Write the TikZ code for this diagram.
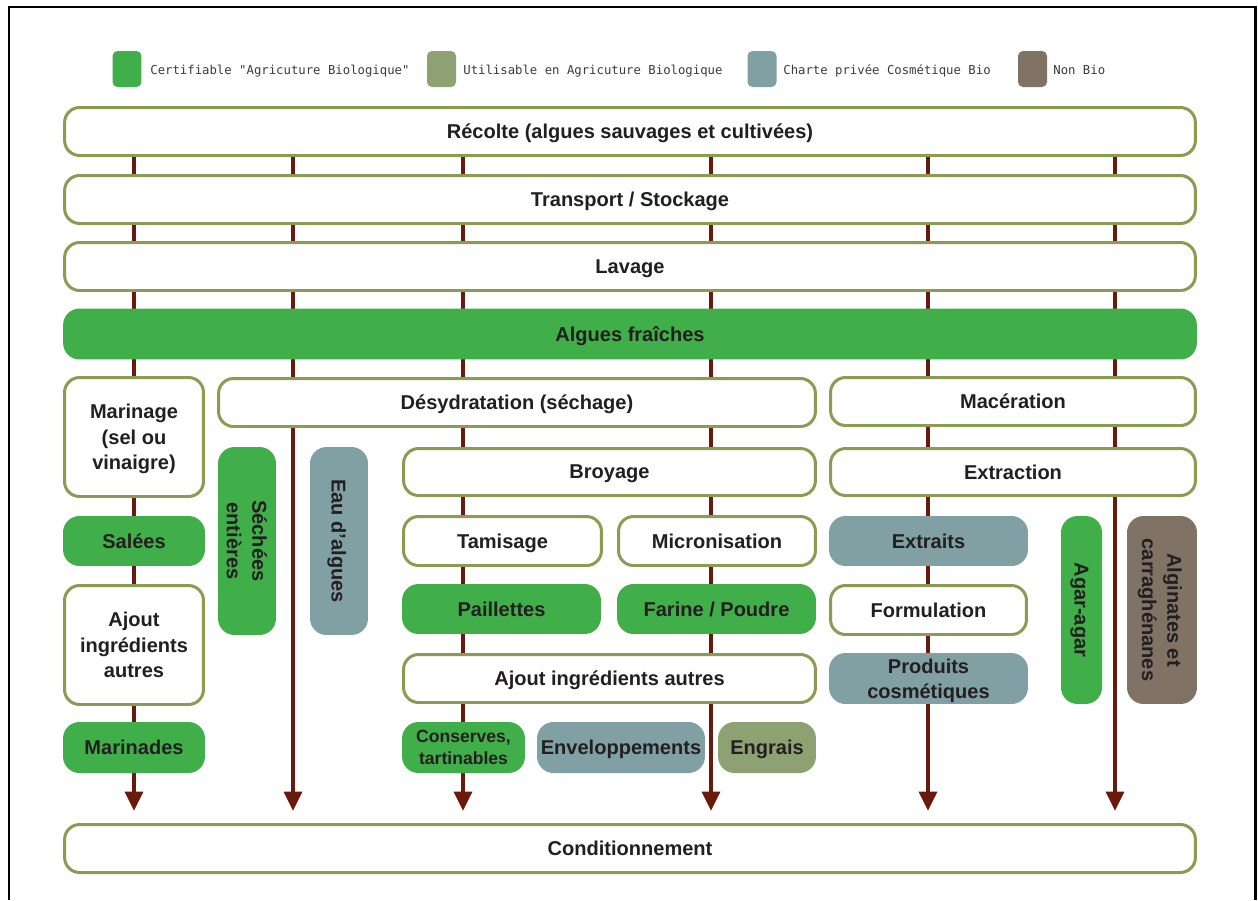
\documentclass[tikz,border=0pt]{standalone}
\usepackage{fontspec}
\setmainfont{Liberation Sans}
\newfontfamily\legendfont{DejaVu Sans Mono}
\usetikzlibrary{arrows.meta,backgrounds}

\definecolor{bioGreen}{HTML}{40AE49}
\definecolor{useGreen}{HTML}{8EA172}
\definecolor{cosmBlue}{HTML}{80A0A4}
\definecolor{nonBio}{HTML}{807366}
\definecolor{edgeOlive}{HTML}{8A9B52}
\definecolor{flowRed}{HTML}{6A1A0C}
\definecolor{inkGrey}{HTML}{231F20}
\definecolor{legendInk}{HTML}{403A3A}

\begin{document}
\begin{tikzpicture}[
	x=0.02cm, y=-0.02cm,
	stage/.style={% white process step
		rectangle,
		rounded corners=0.3cm,
		draw=edgeOlive,
		fill=white,
		line width=1.7pt,
		align=center,
		inner sep=0pt,
		text depth=0pt,
		text=inkGrey,
		font=\bfseries\fontsize{11.4}{14.5}\selectfont
	},
	bioBox/.style={stage, draw=bioGreen, fill=bioGreen},
	useBox/.style={stage, draw=useGreen, fill=useGreen},
	cosmBox/.style={stage, draw=cosmBlue, fill=cosmBlue},
	nonBox/.style={stage, draw=nonBio, fill=nonBio},
	wide/.style={minimum width=22.62cm, minimum height=0.96cm},
	legendkey/.style={
		rectangle,
		rounded corners=0.1cm,
		minimum width=0.58cm,
		minimum height=0.72cm
	},
	legendtext/.style={
		anchor=west,
		inner sep=0pt,
		text depth=0pt,
		text=legendInk,
		font=\legendfont\fontsize{7}{8}\selectfont
	},
	flow/.style={% dark red arrows behind the boxes
		draw=flowRed,
		line width=2.5pt,
		-{Triangle[width=10pt,length=11pt]},
		shorten >=0.24cm
	},
]
	\useasboundingbox (0,0) rectangle (1258,900);
	\draw [line width=1.7pt] (9,900) -- (9,7) -- (1255,7) -- (1255,900);

	% legend
	\node [legendkey, fill=bioGreen] (kbio) at (127,69) {};
	\node [legendtext] (tbio) at (150,70) {Certifiable "Agricuture Biologique"};
	\node [legendkey, fill=useGreen] (kuse) at (441.5,69) {};
	\node [legendtext] (tuse) at (463,70) {Utilisable en Agricuture Biologique};
	\node [legendkey, fill=cosmBlue] (kcosm) at (762,69) {};
	\node [legendtext] (tcosm) at (783,70) {Charte privée Cosmétique Bio};
	\node [legendkey, fill=nonBio] (knon) at (1032.5,69) {};
	\node [legendtext] (tnon) at (1053,70) {Non Bio};

	% common steps
	\node [stage, wide] (recolte) at (630,131.5) {Récolte (algues sauvages et cultivées)};
	\node [stage, wide] (transport) at (630,199.5) {Transport / Stockage};
	\node [stage, wide] (lavage) at (630,266.5) {Lavage};
	\node [bioBox, wide] (fraiches) at (630,334) {Algues fraîches};

	% left branch
	\node [stage, minimum width=2.78cm, minimum height=2.38cm] (marinage) at (134,437) {Marinage\\(sel ou\\vinaigre)};
	\node [bioBox, minimum width=2.78cm, minimum height=0.94cm] (salees) at (134,541) {Salées};
	\node [stage, minimum width=2.78cm, minimum height=2.38cm] (ajoutL) at (134,645) {Ajout\\ingrédients\\autres};
	\node [bioBox, minimum width=2.78cm, minimum height=0.96cm] (marinades) at (134,747.5) {Marinades};

	% drying branch
	\node [stage, minimum width=11.94cm, minimum height=0.96cm] (deshydr) at (517,402.5) {Désydratation (séchage)};
	\node [bioBox, rotate=-90, minimum width=3.7cm, minimum height=1.1cm] (sechees) at (247,541) {Séchées\\entières};
	\node [cosmBox, rotate=-90, minimum width=3.7cm, minimum height=1.1cm] (eau) at (339,541) {Eau d’algues};
	\node [stage, minimum width=8.24cm, minimum height=0.94cm] (broyage) at (609.5,472) {Broyage};
	\node [stage, minimum width=3.96cm, minimum height=0.98cm] (tamisage) at (502.5,541) {Tamisage};
	\node [stage, minimum width=3.94cm, minimum height=0.98cm] (micro) at (717,541) {Micronisation};
	\node [bioBox, minimum width=3.92cm, minimum height=0.94cm] (paillettes) at (501.5,609) {Paillettes};
	\node [bioBox, minimum width=3.92cm, minimum height=0.94cm] (farine) at (716.5,609) {Farine / Poudre};
	\node [stage, minimum width=8.24cm, minimum height=0.96cm] (ajoutM) at (609.5,678.5) {Ajout ingrédients autres};
	\node [bioBox, minimum width=2.4cm, minimum height=0.96cm, font=\bfseries\fontsize{10}{12.5}\selectfont] (conserves) at (463.5,747.5) {Conserves,\\tartinables};
	\node [cosmBox, minimum width=3.3cm, minimum height=0.96cm] (envelop) at (621,747.5) {Enveloppements};
	\node [useBox, minimum width=1.9cm, minimum height=0.96cm] (engrais) at (767,747.5) {Engrais};

	% maceration branch
	\node [stage, minimum width=7.3cm, minimum height=0.96cm] (maceration) at (1013,401.5) {Macération};
	\node [stage, minimum width=7.3cm, minimum height=0.94cm] (extraction) at (1013,472) {Extraction};
	\node [cosmBox, minimum width=3.92cm, minimum height=0.94cm] (extraits) at (928.5,541) {Extraits};
	\node [stage, minimum width=3.92cm, minimum height=0.98cm] (formulation) at (928.5,610) {Formulation};
	\node [cosmBox, minimum width=3.92cm, minimum height=0.96cm] (produits) at (928.5,678.5) {Produits\\cosmétiques};
	\node [bioBox, rotate=-90, minimum width=3.7cm, minimum height=0.76cm] (agar) at (1081.5,610) {Agar-agar};
	\node [nonBox, rotate=-90, minimum width=3.7cm, minimum height=1.34cm] (alginates) at (1162,610) {Alginates et\\carraghénanes};

	\node [stage, wide] (cond) at (630,848.5) {Conditionnement};

	% flow lines
	\foreach \x [count=\i] in {134,293,463,711,928,1115}
		\coordinate (col\i) at (\x,0);
	\begin{scope}[on background layer]
		\fill [white] (0,0) rectangle (1258,900);
		\foreach \i in {1,...,6}
			\draw [flow] (recolte.south -| col\i) -- (cond.north -| col\i);
	\end{scope}
\end{tikzpicture}
\end{document}
